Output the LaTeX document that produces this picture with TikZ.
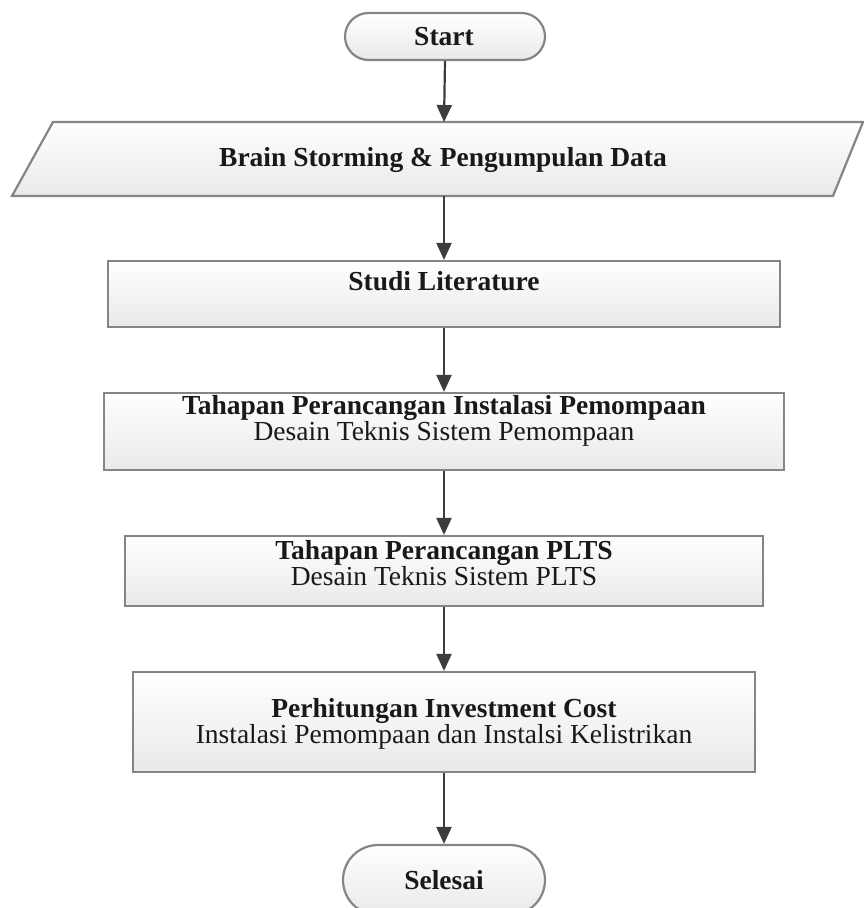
\documentclass[tikz,border=0pt]{standalone}
\usepackage{fontspec}
\setmainfont{Liberation Serif}
\usetikzlibrary{shapes.misc,arrows.meta}
\definecolor{edgegray}{HTML}{858585}
\definecolor{arrowgray}{HTML}{3C3C3C}
\definecolor{fillbot}{HTML}{E9E9E9}
\tikzset{
  boxshape/.style={draw=edgegray, line width=2.2pt, top color=white, bottom color=fillbot, inner sep=0pt},
  stepbox/.style={boxshape, rectangle},
  termbox/.style={boxshape, rounded rectangle},
  lbl/.style={font=\fontsize{27.5}{26}\selectfont, text=black!90, align=center, inner sep=0pt},
  flow/.style={draw=arrowgray, line width=2.2pt, -{Triangle[length=17pt,width=15pt]}}
}
\begin{document}
\begin{tikzpicture}[x=1pt,y=-1pt]
\useasboundingbox (0,0) rectangle (864,908);
% terminals
\node[termbox, minimum width=200pt, minimum height=47pt] (start) at (445,36.5) {};
\node[lbl] (tstart) at (444,37) {\textbf{Start}};
% parallelogram
\coordinate (pbl) at (12,196);
\coordinate (ptl) at (53,122);
\coordinate (ptr) at (863,122);
\coordinate (pbr) at (833,196);
\draw[boxshape] (pbl) -- (ptl) -- (ptr) -- (pbr) -- cycle;
\node[lbl] (para) at (443,160) {\textbf{Brain Storming \& Pengumpulan Data}};
\coordinate (paratop) at (444,122);
\coordinate (parabot) at (444,196);
% boxes
\node[stepbox, minimum width=672pt, minimum height=66pt] (b2) at (444,294) {};
\node[lbl] (t2) at (444,281) {\textbf{Studi Literature}};
\node[stepbox, minimum width=680pt, minimum height=77pt] (b3) at (444,431.5) {};
\node[lbl] (t3) at (444,421) {\textbf{Tahapan Perancangan Instalasi Pemompaan}\\Desain Teknis Sistem Pemompaan};
\node[stepbox, minimum width=638pt, minimum height=70pt] (b4) at (444,571) {};
\node[lbl] (t4) at (444,563) {\textbf{Tahapan Perancangan PLTS}\\Desain Teknis Sistem PLTS};
\node[stepbox, minimum width=622pt, minimum height=100pt] (b5) at (444,722) {};
\node[lbl] (t5) at (444,724) {\textbf{Perhitungan Investment Cost}\\Instalasi Pemompaan dan Instalsi Kelistrikan};
\node[termbox, minimum width=202pt, minimum height=70pt] (end) at (444,880) {};
\node[lbl] (tend) at (444,880) {\textbf{Selesai}};
% connectors
\draw[flow] (start.south) -- (paratop);
\draw[flow] (parabot) -- (b2.north);
\draw[flow] (b2.south) -- (b3.north);
\draw[flow] (b3.south) -- (b4.north);
\draw[flow] (b4.south) -- (b5.north);
\draw[flow] (b5.south) -- (end.north);
\end{tikzpicture}
\end{document}
